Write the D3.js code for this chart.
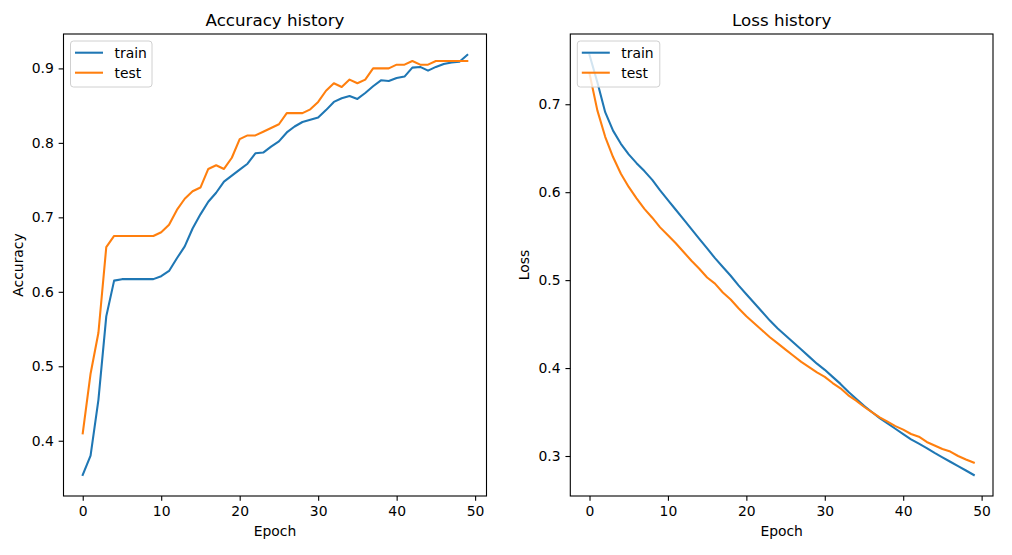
<!DOCTYPE html>
<html>
<head>
<meta charset="utf-8">
<script src="https://cdn.jsdelivr.net/npm/d3@7"></script>
<style>
  body { margin: 0; background: #fff; }
  svg { display: block; font-family: "DejaVu Sans", sans-serif; }
</style>
</head>
<body>
<div id="chart"></div>
<script>
// Training history, one value per epoch (0..49)
const epochs = d3.range(50);

const accTrain = [
  0.354, 0.380, 0.455, 0.567, 0.615, 0.617, 0.617, 0.617, 0.617, 0.617,
  0.621, 0.628, 0.645, 0.661, 0.685, 0.704, 0.721, 0.733, 0.748, 0.756,
  0.764, 0.772, 0.786, 0.787, 0.795, 0.802, 0.814, 0.822, 0.828, 0.831,
  0.834, 0.844, 0.855, 0.860, 0.863, 0.859, 0.867, 0.876, 0.884, 0.883,
  0.887, 0.889, 0.901, 0.902, 0.897, 0.902, 0.906, 0.908, 0.909, 0.918
];
const accTest = [
  0.410, 0.490, 0.545, 0.660, 0.675, 0.675, 0.675, 0.675, 0.675, 0.675,
  0.680, 0.690, 0.710, 0.725, 0.735, 0.740, 0.765, 0.770, 0.765, 0.780,
  0.805, 0.810, 0.810, 0.815, 0.820, 0.825, 0.840, 0.840, 0.840, 0.845,
  0.855, 0.870, 0.880, 0.875, 0.885, 0.880, 0.885, 0.900, 0.900, 0.900,
  0.905, 0.905, 0.910, 0.905, 0.905, 0.910, 0.910, 0.910, 0.910, 0.910
];
const lossTrain = [
  0.756, 0.725, 0.691, 0.670, 0.655, 0.643, 0.633, 0.624, 0.614, 0.602,
  0.591, 0.580, 0.569, 0.558, 0.547, 0.536, 0.525, 0.515, 0.505, 0.494,
  0.484, 0.474, 0.464, 0.454, 0.445, 0.437, 0.429, 0.421, 0.413, 0.405,
  0.398, 0.390, 0.382, 0.373, 0.365, 0.357, 0.350, 0.343, 0.337, 0.331,
  0.325, 0.319, 0.314, 0.309, 0.3035, 0.2985, 0.2935, 0.2885, 0.2835, 0.2784
];
const lossTest = [
  0.735, 0.693, 0.663, 0.640, 0.621, 0.606, 0.593, 0.581, 0.571, 0.560,
  0.551, 0.542, 0.532, 0.522, 0.513, 0.503, 0.496, 0.486, 0.478, 0.468,
  0.459, 0.451, 0.443, 0.435, 0.428, 0.421, 0.414, 0.407, 0.401, 0.395,
  0.390, 0.383, 0.377, 0.369, 0.363, 0.356, 0.350, 0.344, 0.339, 0.334,
  0.330, 0.325, 0.322, 0.316, 0.312, 0.308, 0.305, 0.300, 0.296, 0.2924
];

const seriesNames = ["train", "test"];
const colors = ["#1f77b4", "#ff7f0e"];

const width = 1012, height = 555;
const plotTop = 34, plotBottom = 496;
const tickLen = 4.86;

const panels = [
  { title: "Accuracy history", ylabel: "Accuracy", left: 63.5, right: 486.5,
    data: [accTrain, accTest], yticks: [0.4, 0.5, 0.6, 0.7, 0.8, 0.9] },
  { title: "Loss history", ylabel: "Loss", left: 570.3, right: 993,
    data: [lossTrain, lossTest], yticks: [0.3, 0.4, 0.5, 0.6, 0.7] }
];

const svg = d3.select("#chart")
  .append("svg")
  .attr("width", width)
  .attr("height", height);

panels.forEach(p => {
  // matplotlib-style 5% margins around the data
  const xr = 49 * 0.05;
  const x = d3.scaleLinear().domain([-xr, 49 + xr]).range([p.left, p.right]);

  const all = p.data.flat();
  const lo = d3.min(all), hi = d3.max(all);
  const yr = (hi - lo) * 0.05;
  const y = d3.scaleLinear().domain([lo - yr, hi + yr]).range([plotBottom, plotTop]);

  const g = svg.append("g");

  // lines first, frame on top
  const line = d3.line()
    .x((d, i) => x(epochs[i]))
    .y(d => y(d));

  p.data.forEach((s, k) => {
    g.append("path")
      .datum(s)
      .attr("fill", "none")
      .attr("stroke", colors[k])
      .attr("stroke-width", 2.08)
      .attr("stroke-linejoin", "round")
      .attr("stroke-linecap", "square")
      .attr("d", line);
  });

  // x axis
  const xAxis = g.append("g")
    .attr("transform", `translate(0,${plotBottom})`)
    .call(d3.axisBottom(x).tickValues([0, 10, 20, 30, 40, 50])
      .tickFormat(d3.format("d")).tickSize(tickLen).tickPadding(4.86));

  // y axis
  const yAxis = g.append("g")
    .attr("transform", `translate(${p.left},0)`)
    .call(d3.axisLeft(y).tickValues(p.yticks)
      .tickFormat(d3.format(".1f")).tickSize(tickLen).tickPadding(4.86));

  [xAxis, yAxis].forEach(a => {
    a.select(".domain").remove();
    a.selectAll(".tick line").attr("stroke", "#000").attr("stroke-width", 1.1);
    a.selectAll(".tick text")
      .attr("fill", "#000")
      .style("font-family", "DejaVu Sans")
      .style("font-size", "13.9px");
  });

  // frame
  g.append("rect")
    .attr("x", p.left)
    .attr("y", plotTop)
    .attr("width", p.right - p.left)
    .attr("height", plotBottom - plotTop)
    .attr("fill", "none")
    .attr("stroke", "#000")
    .attr("stroke-width", 1.1);

  // title and labels
  g.append("text")
    .attr("x", (p.left + p.right) / 2)
    .attr("y", 26)
    .attr("text-anchor", "middle")
    .style("font-size", "16.7px")
    .text(p.title);

  g.append("text")
    .attr("x", (p.left + p.right) / 2)
    .attr("y", 536)
    .attr("text-anchor", "middle")
    .style("font-size", "13.9px")
    .text("Epoch");

  g.append("text")
    .attr("transform", `translate(${p.left - 41},${(plotTop + plotBottom) / 2}) rotate(-90)`)
    .attr("text-anchor", "middle")
    .style("font-size", "13.9px")
    .text(p.ylabel);

  // legend, upper left
  const lg = g.append("g").attr("transform", `translate(${p.left + 7},${plotTop + 7})`);
  const lw = p.ylabel === "Loss" ? 82.5 : 81.5;
  lg.append("rect")
    .attr("width", lw)
    .attr("height", 46)
    .attr("rx", 3)
    .attr("fill", "#fff")
    .attr("fill-opacity", 0.8)
    .attr("stroke", "#d0d0d0")
    .attr("stroke-width", 1);

  seriesNames.forEach((name, k) => {
    const ry = 11.7 + k * 20;
    lg.append("line")
      .attr("x1", 4.5)
      .attr("x2", 32.5)
      .attr("y1", ry)
      .attr("y2", ry)
      .attr("stroke", colors[k])
      .attr("stroke-width", 2.08);
    lg.append("text")
      .attr("x", 44)
      .attr("y", ry)
      .attr("dy", "0.35em")
      .style("font-size", "13.9px")
      .text(name);
  });
});
</script>
</body>
</html>
